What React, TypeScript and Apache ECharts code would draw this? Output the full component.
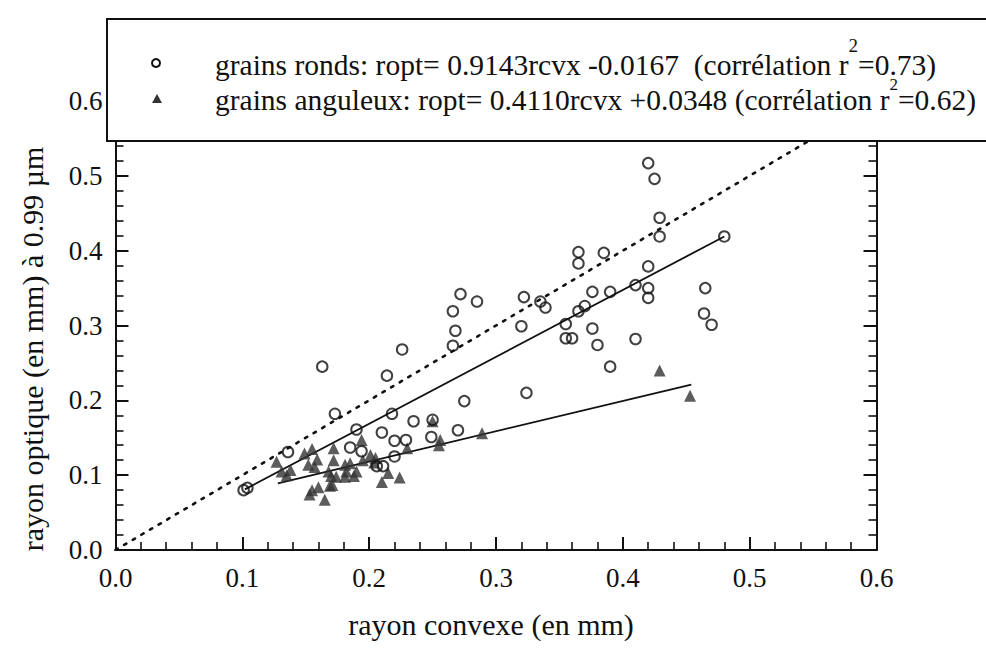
import React, { useEffect, useRef } from "react";
import * as echarts from "echarts";

// ---- data ----
const roundRcvx = [0.101, 0.104, 0.136, 0.163, 0.173, 0.185, 0.190, 0.194, 0.206, 0.211, 0.210, 0.214, 0.218, 0.220, 0.220, 0.229, 0.226, 0.235, 0.250, 0.249, 0.266, 0.268, 0.266, 0.270, 0.272, 0.275, 0.285, 0.320, 0.322, 0.324, 0.335, 0.339, 0.355, 0.355, 0.360, 0.365, 0.365, 0.365, 0.370, 0.376, 0.376, 0.380, 0.385, 0.390, 0.390, 0.410, 0.410, 0.420, 0.425, 0.420, 0.420, 0.420, 0.429, 0.429, 0.465, 0.464, 0.470, 0.480];
const roundRopt = [0.080, 0.083, 0.131, 0.245, 0.182, 0.137, 0.161, 0.132, 0.112, 0.112, 0.157, 0.233, 0.182, 0.125, 0.146, 0.147, 0.268, 0.172, 0.174, 0.151, 0.319, 0.293, 0.273, 0.160, 0.342, 0.199, 0.332, 0.299, 0.338, 0.210, 0.332, 0.324, 0.302, 0.283, 0.283, 0.398, 0.383, 0.319, 0.326, 0.345, 0.296, 0.274, 0.397, 0.345, 0.245, 0.354, 0.282, 0.517, 0.496, 0.379, 0.350, 0.337, 0.444, 0.419, 0.350, 0.316, 0.301, 0.419];

const angRcvx = [0.127, 0.131, 0.135, 0.138, 0.149, 0.155, 0.152, 0.157, 0.159, 0.153, 0.155, 0.160, 0.165, 0.169, 0.168, 0.171, 0.172, 0.172, 0.174, 0.170, 0.181, 0.181, 0.182, 0.185, 0.188, 0.190, 0.194, 0.195, 0.201, 0.205, 0.204, 0.210, 0.215, 0.224, 0.230, 0.250, 0.255, 0.256, 0.289, 0.429, 0.453];
const angRopt = [0.118, 0.105, 0.100, 0.107, 0.129, 0.135, 0.114, 0.111, 0.121, 0.074, 0.080, 0.084, 0.067, 0.086, 0.105, 0.087, 0.136, 0.120, 0.098, 0.099, 0.098, 0.114, 0.105, 0.116, 0.099, 0.105, 0.147, 0.120, 0.127, 0.123, 0.117, 0.091, 0.103, 0.097, 0.136, 0.172, 0.140, 0.147, 0.156, 0.240, 0.206];

// regression lines (end points) and the 1:1 line
const roundFitLine = [[0.102, 0.081], [0.480, 0.419]];
const angFitLine = [[0.128, 0.089], [0.454, 0.221]];
const identityLine = [[0.0, 0.0], [0.6, 0.6]];

const xTicks = [0, 0.1, 0.2, 0.3, 0.4, 0.5, 0.6];
const yTicks = [0, 0.1, 0.2, 0.3, 0.4, 0.5, 0.6];

const legendItems = [
  { symbol: "circle", main: "grains ronds: ropt= 0.9143rcvx -0.0167  (corrélation r", sup: "2", tail: "=0.73)" },
  { symbol: "triangle", main: "grains anguleux: ropt= 0.4110rcvx +0.0348 (corrélation r", sup: "2", tail: "=0.62)" },
];

const xTitle = "rayon convexe (en mm)";
const yTitle = "rayon optique (en mm) à 0.99 µm";

const FONT = "Liberation Serif";
const INK = "#111111";

function measure(text: string, size: number): number {
  const ctx = document.createElement("canvas").getContext("2d");
  if (!ctx) return text.length * size * 0.45;
  ctx.font = `${size}px ${FONT}`;
  return ctx.measureText(text).width;
}

function zip(xs: number[], ys: number[]) {
  return xs.map((x, i) => [x, ys[i]]);
}

export default function App() {
  const ref = useRef<HTMLDivElement>(null);

  useEffect(() => {
    if (!ref.current) return;
    const chart = echarts.init(ref.current, undefined, { renderer: "svg" });

    const axisCommon = {
      type: "value" as const,
      min: 0,
      max: 0.6,
      interval: 0.1,
      axisLine: { show: true, onZero: false, lineStyle: { color: INK, width: 2 } },
      axisTick: { show: true, inside: true, length: 13, lineStyle: { color: INK, width: 2 } },
      minorTick: { show: true, splitNumber: 5, length: 8, lineStyle: { color: INK, width: 1.6 } },
      splitLine: { show: false },
      minorSplitLine: { show: false },
    };

    const labelStyle = {
      fontFamily: FONT,
      fontSize: 27,
      color: INK,
      formatter: (v: number) => v.toFixed(1),
    };

    const legendFont = 29.5;
    const supFonts = [19, 17];
    const textX = 215;
    const lineYs = [65, 100];
    const supYs = [45, 84];
    const legendGraphics: any[] = [
      {
        type: "rect",
        z: 100,
        shape: { x: 107, y: 19, width: 900, height: 122 },
        style: { fill: "#fff", stroke: INK, lineWidth: 2 },
      },
    ];
    legendItems.forEach((it, i) => {
      const y = lineYs[i];
      if (it.symbol === "circle") {
        legendGraphics.push({
          type: "circle",
          z: 101,
          shape: { cx: 156, cy: y - 2, r: 4 },
          style: { fill: "#fff", stroke: INK, lineWidth: 2 },
        });
      } else {
        legendGraphics.push({
          type: "polygon",
          z: 101,
          shape: { points: [[157, y - 6], [162, y + 3], [152, y + 3]] },
          style: { fill: "#333" },
        });
      }
      const wMain = measure(it.main, legendFont);
      const wSup = measure(it.sup, supFonts[i]);
      legendGraphics.push({
        type: "text",
        z: 101,
        x: textX,
        y,
        style: { text: it.main, fontFamily: FONT, fontSize: legendFont, fill: INK, align: "left", verticalAlign: "middle" },
      });
      legendGraphics.push({
        type: "text",
        z: 101,
        x: textX + wMain,
        y: supYs[i],
        style: { text: it.sup, fontFamily: FONT, fontSize: supFonts[i], fill: INK, align: "left", verticalAlign: "middle" },
      });
      legendGraphics.push({
        type: "text",
        z: 101,
        x: textX + wMain + wSup,
        y,
        style: { text: it.tail, fontFamily: FONT, fontSize: legendFont, fill: INK, align: "left", verticalAlign: "middle" },
      });
    });

    const titleGraphics = [
      {
        type: "text",
        z: 50,
        x: 491,
        y: 624,
        style: { text: xTitle, fontFamily: FONT, fontSize: 30, fill: INK, align: "center", verticalAlign: "middle" },
      },
      {
        type: "text",
        z: 50,
        x: 32,
        y: 349,
        rotation: Math.PI / 2,
        style: { text: yTitle, fontFamily: FONT, fontSize: 30, fill: INK, align: "center", verticalAlign: "middle" },
      },
    ];

    chart.setOption({
      animation: false,
      backgroundColor: "#fff",
      textStyle: { fontFamily: FONT },
      grid: { left: 115.5, right: 109.5, top: 101, bottom: 102, containLabel: false },
      xAxis: [
        {
          ...axisCommon,
          position: "bottom",
          axisLabel: { ...labelStyle, margin: 14, customValues: xTicks },
        },
        {
          ...axisCommon,
          position: "top",
          axisLabel: { show: false },
        },
      ],
      yAxis: [
        {
          ...axisCommon,
          position: "left",
          axisLabel: { ...labelStyle, margin: 13, customValues: yTicks },
        },
        {
          ...axisCommon,
          position: "right",
          axisLabel: { show: false },
        },
      ],
      series: [
        {
          type: "line",
          data: identityLine,
          symbol: "none",
          silent: true,
          z: 1,
          lineStyle: { color: INK, width: 2.6, type: [2.6, 7.4], cap: "round" },
        },
        {
          type: "line",
          data: roundFitLine,
          symbol: "none",
          silent: true,
          z: 1,
          lineStyle: { color: INK, width: 1.8 },
        },
        {
          type: "line",
          data: angFitLine,
          symbol: "none",
          silent: true,
          z: 1,
          lineStyle: { color: INK, width: 1.8 },
        },
        {
          type: "scatter",
          name: "grains anguleux",
          data: zip(angRcvx, angRopt),
          symbol: "triangle",
          symbolSize: 12,
          z: 3,
          itemStyle: { color: "#333" },
        },
        {
          type: "scatter",
          name: "grains ronds",
          data: zip(roundRcvx, roundRopt),
          symbol: "circle",
          symbolSize: 10.5,
          z: 4,
          itemStyle: { color: "rgba(255,255,255,0)", borderColor: INK, borderWidth: 2 },
        },
      ],
      graphic: [...titleGraphics, ...legendGraphics],
    });

    return () => chart.dispose();
  }, []);

  return (
    <div
      ref={ref}
      style={{ position: "fixed", left: 0, top: 0, width: 986, height: 652, background: "#fff" }}
    />
  );
}
